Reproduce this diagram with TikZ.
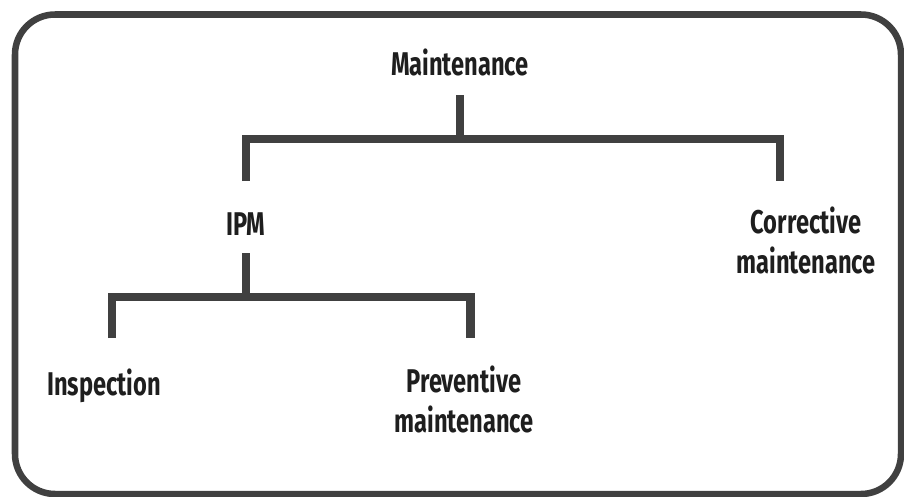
\documentclass[tikz,border=0pt]{standalone}
\usepackage{fontspec}
\setmainfont{Fira Sans}[FakeStretch=0.72]
\usetikzlibrary{calc}

\begin{document}
\begin{tikzpicture}[x=0.02cm,y=-0.02cm]
        %%init
        %page size in px
        \newcommand{\pagew}{904}
        \newcommand{\pageh}{497}
        %rows of the tree
        \newcommand{\rowa}{139}
        \newcommand{\rowb}{297}
        \useasboundingbox (0,0) rectangle (\pagew,\pageh);

        %%colours and styles
        \definecolor{line_color}{RGB}{64,64,64}
        \definecolor{text_color}{RGB}{30,30,30}
        \tikzset{frame/.style = {draw=line_color, line width=3.7pt, rounded corners=0.8cm}}
        \tikzset{branch/.style = {draw=line_color, line width=5.1pt, miter limit=10}}
        \tikzset{label/.style = {text=text_color, font=\bfseries\fontsize{18.7}{22.5}\selectfont, align=center, anchor=base, inner sep=0pt}}

        %%frame
        \draw[frame] (15,14.5) rectangle (901,494);

        %%texts (base = last line)
        \node[label] (maint) at (460,75) {Maintenance};
        \node[label] (ipm) at (246,235) {IPM};
        \node[label] (corr) at (806,273) {Corrective\\maintenance};
        \node[label] (insp) at (104,395) {Inspection};
        \node[label] (prev) at (464,432) {Preventive\\maintenance};

        %%branch points
        \coordinate (maintstem) at (maint.center |- 0,95);
        \coordinate (maintjoin) at (maint.center |- 0,\rowa);
        \coordinate (ipmtop) at (ipm.center |- 0,181);
        \coordinate (corrtop) at (780,181);
        \coordinate (ipmstem) at (ipm.center |- 0,253);
        \coordinate (ipmjoin) at (ipm.center |- 0,\rowb);
        \coordinate (insptop) at (112,338);
        \coordinate (prevtop) at (470.5,338);

        %%tree
        \draw[branch] (maintstem)--(maintjoin);
        \draw[branch] (ipmtop)--(ipmtop |- maintjoin)--(corrtop |- maintjoin)--(corrtop);
        \draw[branch] (ipmstem)--(ipmjoin);
        \draw[branch] (insptop)--(insptop |- ipmjoin)--(prevtop |- ipmjoin)--(prevtop);
\end{tikzpicture}
\end{document}
